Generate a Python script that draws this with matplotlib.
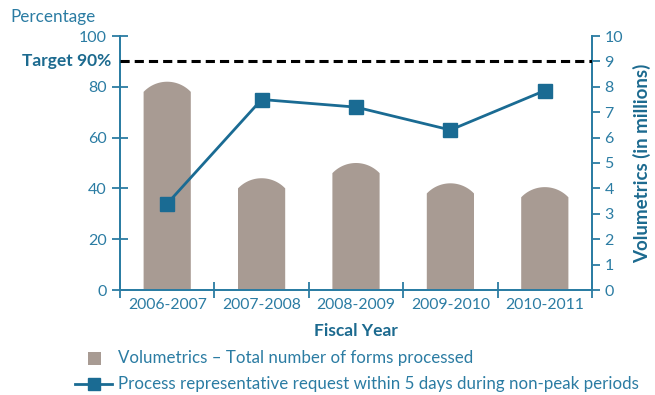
import numpy as np
import matplotlib
matplotlib.use('Agg')
import matplotlib.pyplot as plt
from matplotlib.patches import Polygon, Rectangle
from matplotlib.lines import Line2D

plt.rcParams['font.family'] = ['Lato', 'DejaVu Sans']

# data
years = ["2006-2007", "2007-2008", "2008-2009", "2009-2010", "2010-2011"]
volumetrics = [8.2, 4.4, 5.0, 4.2, 4.05]      # millions
pct_within_5_days = [34, 75, 72, 63, 78.5]    # percent
target = 90
pct_ticks = [0, 20, 40, 60, 80, 100]
vol_ticks = list(range(0, 11))

TEAL = '#2b7ca3'
DARK = '#1c6a8f'
LINE = '#1a6b93'
BAR = '#a89b93'

fig = plt.figure(figsize=(6.55, 3.95), dpi=100)
ax_v = fig.add_axes([120 / 655, 1 - 290 / 395, 472 / 655, 254 / 395])
ax_p = ax_v.twinx()

x = np.arange(len(years))
bar_w = 0.5
cap = 0.4
rho = 1.39

# bars with rounded caps (volumetrics, right axis)
t = np.linspace(-1, 1, 41)
f = (rho - np.sqrt(rho ** 2 - t ** 2)) / (rho - np.sqrt(rho ** 2 - 1))
for xi, v in zip(x, volumetrics):
    xs = xi + t * bar_w / 2
    ys = v - cap * f
    pts = [(xi - bar_w / 2, 0)] + list(zip(xs, ys)) + [(xi + bar_w / 2, 0)]
    ax_v.add_patch(Polygon(pts, closed=True, facecolor=BAR, edgecolor='none', zorder=2))

ax_v.set_ylim(0, 10)
ax_v.set_xlim(-0.5, len(years) - 0.5)

# percentage line (left axis)
ax_p.set_ylim(0, 100)
ax_p.axhline(target, color='black', lw=2.2, dashes=(3, 1.65), zorder=3)
ax_p.plot(x, pct_within_5_days, color=LINE, lw=2.0, marker='s', markersize=9.5,
          markerfacecolor=LINE, markeredgecolor=LINE, zorder=4)

# axes styling
ax_p.yaxis.tick_left()
ax_p.yaxis.set_label_position('left')
ax_v.yaxis.tick_right()
ax_v.yaxis.set_label_position('right')

for a in (ax_v, ax_p):
    a.spines['top'].set_visible(False)
    for s in ('left', 'right', 'bottom'):
        a.spines[s].set_color(TEAL)
        a.spines[s].set_linewidth(1.3)
    a.patch.set_visible(False)

ax_p.set_yticks(pct_ticks)
ax_p.tick_params(axis='y', direction='inout', length=11, width=1.3, color=TEAL,
                 labelcolor=TEAL, labelsize=11.5, pad=4)
ax_v.set_yticks(vol_ticks)
ax_v.tick_params(axis='y', direction='out', length=6, width=1.3, color=TEAL,
                 labelcolor=TEAL, labelsize=11.5, pad=3)

ax_v.set_xticks(x)
ax_v.set_xticklabels(years)
ax_v.set_xticks(np.arange(-0.5, len(years)), minor=True)
ax_v.tick_params(axis='x', which='major', length=0, labelcolor=TEAL, labelsize=11.3, pad=6)
ax_v.tick_params(axis='x', which='minor', direction='inout', length=11, width=1.3, color=TEAL)
ax_p.tick_params(axis='x', bottom=False, labelbottom=False)

ax_v.set_xlabel('Fiscal Year', color=DARK, fontsize=12.5, fontweight='bold', labelpad=8)
ax_v.set_ylabel('Volumetrics (in millions)', color=DARK, fontsize=13.5, fontweight='bold',
                labelpad=7)

fig.text(10 / 655, 1 - 17 / 395, 'Percentage', color=TEAL, fontsize=12.3, va='center', ha='left')
ax_p.text(-0.019, target, 'Target 90%', color=DARK, fontsize=12.5, fontweight='bold',
          ha='right', va='center', transform=ax_p.get_yaxis_transform())

# legend
W, H = 655, 395
fig.add_artist(Rectangle((88 / W, 1 - 365 / H), 13 / W, 13 / H, transform=fig.transFigure,
                         facecolor=BAR, edgecolor='none'))
fig.text(118 / W, 1 - 358 / H, 'Volumetrics \u2013 Total number of forms processed',
         color=TEAL, fontsize=12.2, va='center', ha='left')
fig.add_artist(Line2D([75 / W, 112 / W], [1 - 384 / H, 1 - 384 / H], transform=fig.transFigure,
                      color=LINE, lw=2.0))
fig.add_artist(Line2D([93.5 / W], [1 - 384 / H], transform=fig.transFigure, color=LINE,
                      marker='s', markersize=8.5))
fig.text(118 / W, 1 - 384 / H, 'Process representative request within 5 days during non-peak periods',
         color=TEAL, fontsize=12.2, va='center', ha='left')

fig.savefig('out.png', dpi=100)
